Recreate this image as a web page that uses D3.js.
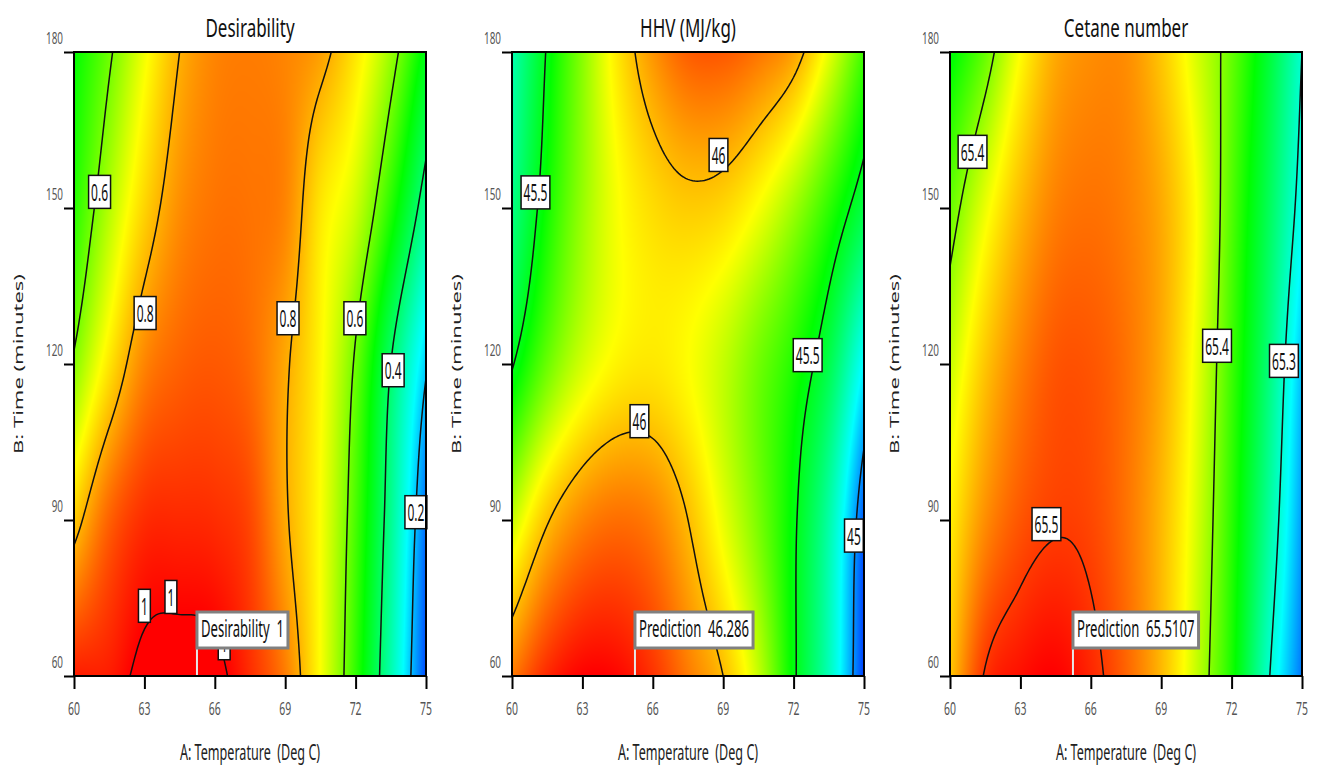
<!DOCTYPE html>
<html>
<head>
<meta charset="utf-8">
<script src="https://cdn.jsdelivr.net/npm/d3@7"></script>
<style>
  body { margin: 0; background: #fff; }
  svg text { font-family: "Noto Sans", "Open Sans", sans-serif; white-space: pre; }
</style>
</head>
<body>
<svg id="chart" width="1317" height="766"></svg>
<script>
// factor grid (A: temperature, B: time) the surfaces are read on
var tempGrid = [60, 61.5, 63, 64.5, 66, 67.5, 69, 70.5, 72, 73.5, 75];
var timeGrid = [60, 90, 120, 150, 180];
var tempTicks = [60, 63, 66, 69, 72, 75];
var timeTicks = [60, 90, 120, 150, 180];

// surface values, one row per time (60 -> 180), one column per temperature
var desirability = [
  [0.97, 0.97, 1.02, 1.03, 1.02, 0.95, 0.86, 0.71, 0.54, 0.33, 0.10],
  [0.77, 0.89, 0.95, 0.955, 0.95, 0.92, 0.81, 0.71, 0.56, 0.36, 0.13],
  [0.61, 0.74, 0.85, 0.89, 0.90, 0.88, 0.81, 0.72, 0.59, 0.40, 0.21],
  [0.53, 0.65, 0.76, 0.84, 0.87, 0.87, 0.85, 0.74, 0.67, 0.53, 0.36],
  [0.50, 0.59, 0.70, 0.80, 0.85, 0.86, 0.85, 0.82, 0.74, 0.63, 0.48]
];
var hhv = [
  [46.12, 46.27, 46.34, 46.33, 46.25, 46.12, 46.00, 45.80, 45.52, 45.25, 44.88],
  [45.80, 45.99, 46.10, 46.14, 46.11, 46.00, 45.85, 45.70, 45.52, 45.28, 44.92],
  [45.49, 45.68, 45.82, 45.90, 45.92, 45.88, 45.80, 45.69, 45.58, 45.42, 45.13],
  [45.33, 45.56, 45.74, 45.87, 45.94, 45.97, 45.95, 45.87, 45.75, 45.60, 45.43],
  [45.26, 45.51, 45.72, 45.92, 46.07, 46.17, 46.18, 46.13, 46.05, 45.85, 45.62]
];
var cetane = [
  [65.45, 65.502, 65.515, 65.52, 65.507, 65.485, 65.455, 65.415, 65.37, 65.305, 65.25],
  [65.435, 65.47, 65.49, 65.498, 65.495, 65.48, 65.455, 65.42, 65.375, 65.32, 65.26],
  [65.415, 65.45, 65.475, 65.49, 65.49, 65.48, 65.46, 65.425, 65.38, 65.33, 65.27],
  [65.39, 65.425, 65.455, 65.475, 65.48, 65.475, 65.46, 65.43, 65.385, 65.34, 65.29],
  [65.36, 65.39, 65.43, 65.46, 65.47, 65.47, 65.45, 65.42, 65.39, 65.35, 65.30]
];

var desirLevels = [0.2, 0.4, 0.6, 0.8, 1];
var hhvLevels = [45, 45.5, 46];
var cetaneLevels = [65.3, 65.4, 65.5];

// contour labels: [text, temperature, time]
var desirLabels = [["0.6", 61.09, 153.1], ["0.8", 63.03, 129.8], ["0.8", 69.12, 128.8],
  ["0.6", 71.97, 128.8], ["0.4", 73.6, 118.8], ["0.2", 74.57, 91.5],
  ["1", 66.4, 66.3], ["1", 63.0, 73.5], ["1", 64.13, 75.2]];
var hhvLabels = [["45.5", 61.0, 153], ["46", 68.8, 160.2], ["45.5", 72.6, 121.7],
  ["46", 65.43, 109], ["45", 74.57, 87]];
var cetaneLabels = [["65.4", 60.96, 160.8], ["65.4", 71.38, 123.5], ["65.3", 74.23, 120.6],
  ["65.5", 64.11, 89.2]];

var titles = ["Desirability", "HHV (MJ/kg)", "Cetane number"];
var flagTexts = ["Desirability  1", "Prediction  46.286", "Prediction  65.5107"];
var optimum = [65.24, 60];

var colorStops = [0, 0.22, 0.48, 0.7, 1];
var colorRange = ["#0000ff", "#00ffff", "#00ff00", "#ffff00", "#ff0000"];

var panels = [
  {grid: desirability, levels: desirLevels, labels: desirLabels, domain: [0.04, 1.0], left: 74},
  {grid: hhv, levels: hhvLevels, labels: hhvLabels, domain: [44.8, 46.34], left: 512},
  {grid: cetane, levels: cetaneLevels, labels: cetaneLabels, domain: [65.22, 65.52], left: 950}
];

var plotTop = 52, width = 352, height = 624;
var svg = d3.select("#chart");

// read the grid with edge extrapolation
function cell(grid, r, c) {
  var ny = grid.length, nx = grid[0].length;
  if (r < 0) return 2 * cell(grid, 0, c) - cell(grid, 1, c);
  if (r > ny - 1) return 2 * cell(grid, ny - 1, c) - cell(grid, ny - 2, c);
  if (c < 0) return 2 * cell(grid, r, 0) - cell(grid, r, 1);
  if (c > nx - 1) return 2 * cell(grid, r, nx - 1) - cell(grid, r, nx - 2);
  return grid[r][c];
}
function cubic(p0, p1, p2, p3, t) {
  return p1 + 0.5 * t * (p2 - p0 + t * (2 * p0 - 5 * p1 + 4 * p2 - p3 + t * (3 * (p1 - p2) + p3 - p0)));
}
// smooth surface between the read values (catmull-rom)
function surface(grid, temp, time) {
  var u = (temp - tempGrid[0]) / (tempGrid[1] - tempGrid[0]);
  var v = (time - timeGrid[0]) / (timeGrid[1] - timeGrid[0]);
  var i = Math.min(Math.max(Math.floor(u), 0), tempGrid.length - 2);
  var j = Math.min(Math.max(Math.floor(v), 0), timeGrid.length - 2);
  var fu = u - i, fv = v - j, rows = [];
  for (var r = j - 1; r <= j + 2; r++) {
    rows.push(cubic(cell(grid, r, i - 1), cell(grid, r, i), cell(grid, r, i + 1), cell(grid, r, i + 2), fu));
  }
  return cubic(rows[0], rows[1], rows[2], rows[3], fv);
}

function squeezed(sel, x, y, str, size, sx, anchor) {
  return sel.append("text")
    .attr("transform", "translate(" + x + "," + y + ") scale(" + sx + ",1)")
    .attr("text-anchor", anchor || "middle")
    .attr("font-size", size)
    .text(str);
}

var defs = svg.append("defs");

panels.forEach(function(p, k) {
  var x = d3.scaleLinear().domain([60, 75]).range([0, width]);
  var y = d3.scaleLinear().domain([60, 180]).range([height, 0]);
  var g = svg.append("g").attr("transform", "translate(" + p.left + "," + plotTop + ")");

  var color = d3.scaleLinear()
    .domain(colorStops.map(function(s) { return p.domain[0] + s * (p.domain[1] - p.domain[0]); }))
    .range(colorRange)
    .clamp(true);

  // heat map
  var canvas = document.createElement("canvas");
  canvas.width = width; canvas.height = height;
  var ctx = canvas.getContext("2d");
  var img = ctx.createImageData(width, height);
  for (var py = 0; py < height; py++) {
    var time = y.invert(py + 0.5);
    for (var px = 0; px < width; px++) {
      var c = d3.rgb(color(surface(p.grid, x.invert(px + 0.5), time)));
      var o = (py * width + px) * 4;
      img.data[o] = c.r; img.data[o + 1] = c.g; img.data[o + 2] = c.b; img.data[o + 3] = 255;
    }
  }
  ctx.putImageData(img, 0, 0);
  g.append("image").attr("width", width).attr("height", height)
    .attr("href", canvas.toDataURL());

  defs.append("clipPath").attr("id", "clip" + k)
    .append("rect").attr("width", width).attr("height", height);

  // contours
  var nx = 151, ny = 121, values = new Array(nx * ny);
  for (var j = 0; j < ny; j++) {
    for (var i = 0; i < nx; i++) {
      values[j * nx + i] = surface(p.grid, 60 + i * 0.1, 60 + j * 1);
    }
  }
  var contours = d3.contours().size([nx, ny]).thresholds(p.levels)(values);
  var proj = d3.geoTransform({
    point: function(cx, cy) {
      this.stream.point(x(60 + (cx - 0.5) * 0.1), y(60 + (cy - 0.5) * 1));
    }
  });
  g.append("g").attr("clip-path", "url(#clip" + k + ")")
    .selectAll("path").data(contours).join("path")
    .attr("d", d3.geoPath(proj))
    .attr("fill", "none")
    .attr("stroke", "#111")
    .attr("stroke-width", 1.5);

  // contour labels
  p.labels.forEach(function(l) {
    var lg = g.append("g").attr("transform", "translate(" + x(l[1]) + "," + y(l[2]) + ")");
    var box = lg.append("rect");
    var t = squeezed(lg, 0, 9, l[0], 24, 0.5).attr("fill", "#111");
    var w = t.node().getComputedTextLength() * 0.5 + 5;
    box.attr("x", -w / 2).attr("y", -16.5).attr("width", w).attr("height", 33)
      .attr("fill", "#fff").attr("stroke", "#111").attr("stroke-width", 1.5);
  });

  // prediction flag
  var fx = x(optimum[0]), fy = y(optimum[1]);
  var fg = g.append("g");
  fg.append("line").attr("x1", fx).attr("x2", fx).attr("y1", fy - 28).attr("y2", fy)
    .attr("stroke", "#e6e6e6").attr("stroke-width", 2);
  var fbox = fg.append("rect");
  var ft = squeezed(fg, fx + 4, fy - 39, flagTexts[k], 23, 0.57, "start").attr("fill", "#111");
  var fw = ft.node().getComputedTextLength() * 0.57 + 8;
  fbox.attr("x", fx).attr("y", fy - 64).attr("width", fw).attr("height", 36)
    .attr("fill", "#fff").attr("stroke", "#808080").attr("stroke-width", 3);

  // frame
  g.append("rect").attr("width", width).attr("height", height)
    .attr("fill", "none").attr("stroke", "#000").attr("stroke-width", 2);

  // axes
  var ya = g.append("g").call(d3.axisLeft(y).tickValues(timeTicks).tickSize(10).tickFormat(""));
  ya.select(".domain").remove();
  ya.selectAll("line").attr("stroke", "#000").attr("stroke-width", 2);
  timeTicks.forEach(function(v) {
    squeezed(g, -11, y(v) - 8, v, 16.5, 0.6, "end").attr("fill", "#555");
  });
  var xa = g.append("g").attr("transform", "translate(0," + height + ")")
    .call(d3.axisBottom(x).tickValues(tempTicks).tickSize(13).tickFormat(""));
  xa.select(".domain").remove();
  xa.selectAll("line").attr("stroke", "#000").attr("stroke-width", 2);
  tempTicks.forEach(function(v) {
    squeezed(g, x(v), height + 39, v, 19, 0.55).attr("fill", "#555");
  });

  // titles
  squeezed(g, width / 2, -15, titles[k], 25, 0.68).attr("fill", "#111");
  squeezed(g, width / 2, height + 84, "A: Temperature  (Deg C)", 21, 0.6).attr("fill", "#222");
  g.append("text")
    .attr("transform", "translate(-51," + (height / 2) + ") rotate(-90) scale(1,0.6)")
    .attr("text-anchor", "middle").attr("font-size", 22).attr("fill", "#222")
    .text("B: Time (minutes)");
});
</script>
</body>
</html>
